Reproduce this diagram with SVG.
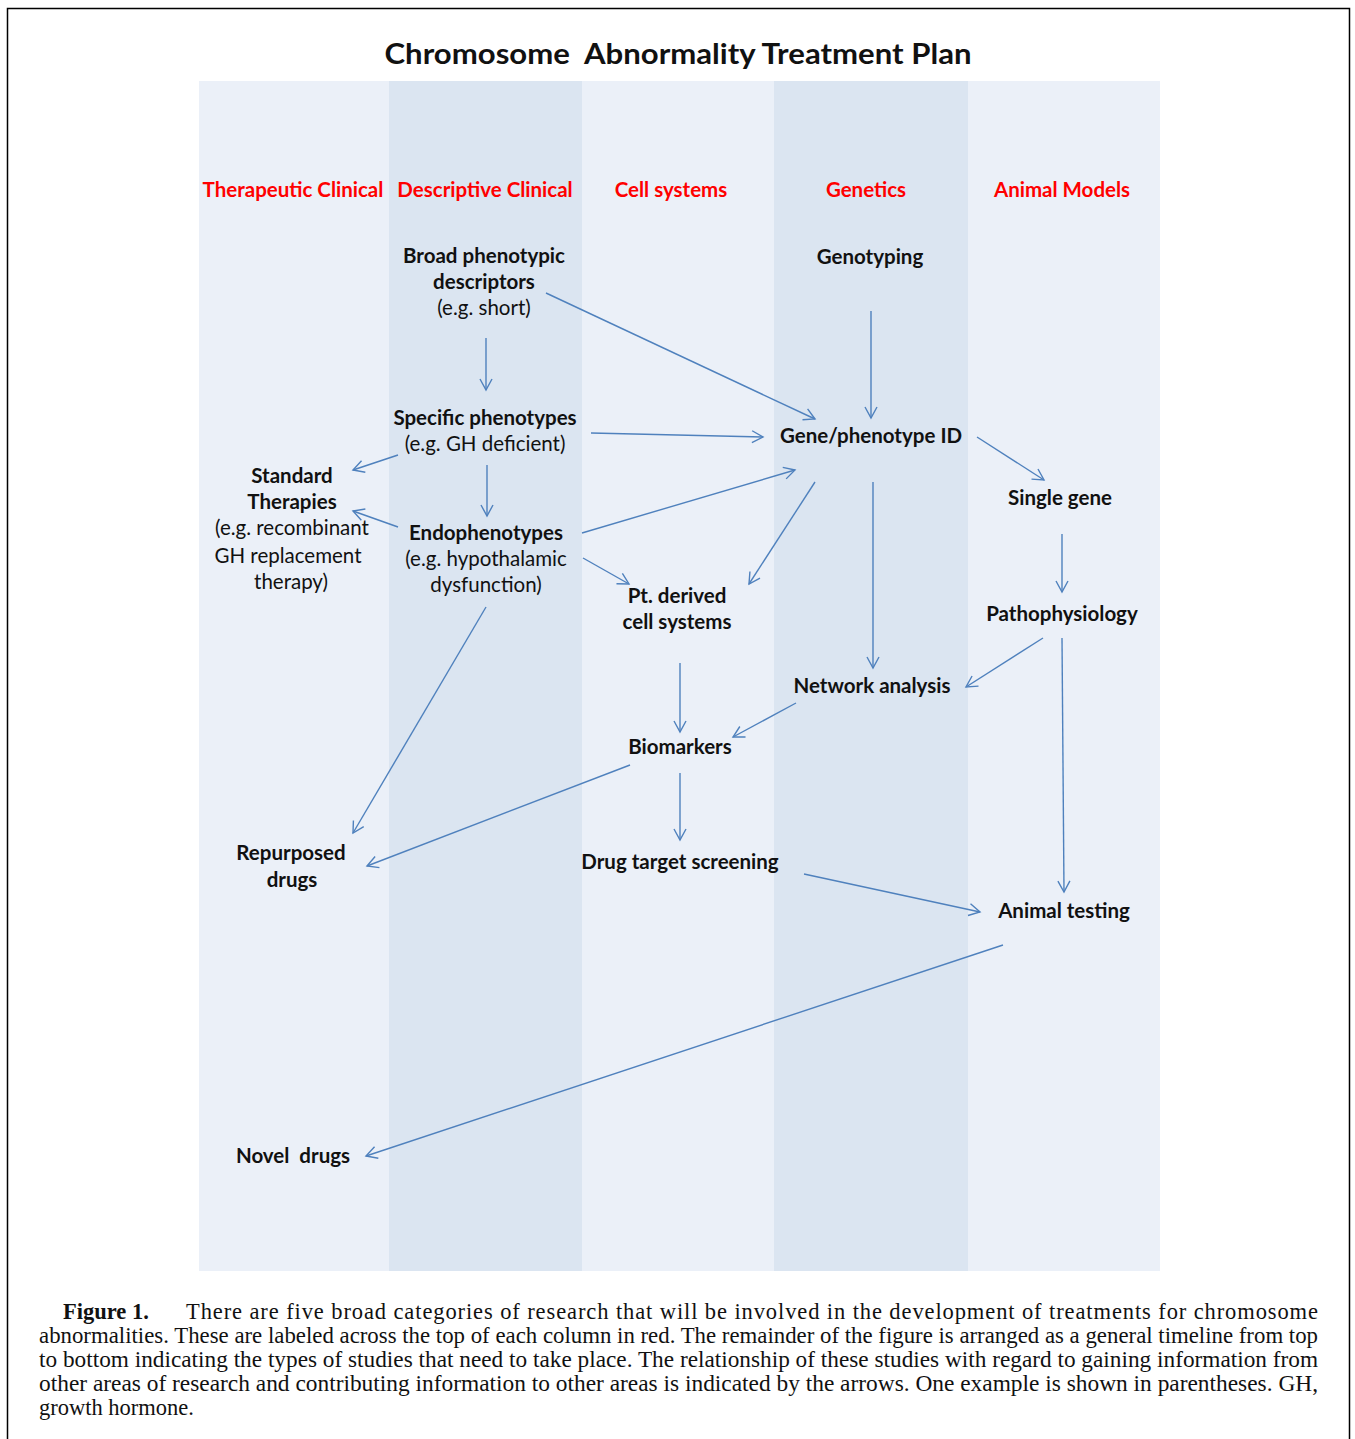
<svg xmlns="http://www.w3.org/2000/svg" width="1355" height="1439" viewBox="0 0 1355 1439">
<defs>
<style>
.t{font-family:Lato,"Open Sans","Liberation Sans",sans-serif;font-weight:bold;font-size:20.5px;fill:#111;text-anchor:middle;white-space:pre}
.n{font-weight:normal}
.h{font-family:Lato,"Open Sans","Liberation Sans",sans-serif;font-weight:bold;font-size:20.5px;fill:#ff0000;text-anchor:middle}
.c{font-family:"Liberation Serif",serif;font-size:22.5px;fill:#111}
.a{stroke:#4f81bd;stroke-width:1.4;fill:none;marker-end:url(#ah)}
</style>
<marker id="ah" markerWidth="14" markerHeight="14" refX="12" refY="7" orient="auto" markerUnits="userSpaceOnUse">
<path d="M1,1 L12,7 L1,13" fill="none" stroke="#4f81bd" stroke-width="1.4"/>
</marker>
</defs>
<rect width="1355" height="1439" fill="#fff"/>
<path d="M7.5,1439 V8.5 H1349.5 V1439" fill="none" stroke="#000" stroke-width="1.5"/>
<text x="678" y="64" style="font-family:Lato,'Open Sans','Liberation Sans',sans-serif;font-weight:bold;font-size:28px;fill:#111;text-anchor:middle;white-space:pre" textLength="587" lengthAdjust="spacingAndGlyphs">Chromosome  Abnormality Treatment Plan</text>
<g id="columns">
<rect x="199" y="81" width="190" height="1190" fill="#ebf0f8"/>
<rect x="389" y="81" width="193" height="1190" fill="#dbe5f1"/>
<rect x="582" y="81" width="192" height="1190" fill="#ebf0f8"/>
<rect x="774" y="81" width="194" height="1190" fill="#dbe5f1"/>
<rect x="968" y="81" width="192" height="1190" fill="#ebf0f8"/>
</g>
<g id="headers">
<text class="h" x="293" y="197">Therapeutic Clinical</text>
<text class="h" x="485" y="197">Descriptive Clinical</text>
<text class="h" x="671" y="197">Cell systems</text>
<text class="h" x="866" y="197">Genetics</text>
<text class="h" x="1062" y="197">Animal Models</text>
</g>
<g id="connectors">
<line class="a" x1="546" y1="293" x2="815" y2="419"/>
<line class="a" x1="486" y1="338" x2="486" y2="390"/>
<line class="a" x1="871" y1="311" x2="871" y2="418"/>
<line class="a" x1="591" y1="433" x2="763" y2="437"/>
<line class="a" x1="398" y1="455" x2="353" y2="470"/>
<line class="a" x1="487" y1="465" x2="487" y2="516"/>
<line class="a" x1="398" y1="527" x2="353" y2="511"/>
<line class="a" x1="582" y1="533" x2="795" y2="470"/>
<line class="a" x1="815" y1="482" x2="749" y2="584"/>
<line class="a" x1="583" y1="558" x2="629" y2="584"/>
<line class="a" x1="977" y1="437" x2="1044" y2="480"/>
<line class="a" x1="873" y1="482" x2="873" y2="668"/>
<line class="a" x1="1062" y1="534" x2="1062" y2="592"/>
<line class="a" x1="1043" y1="638" x2="966" y2="687"/>
<line class="a" x1="1062" y1="638" x2="1064" y2="892"/>
<line class="a" x1="680" y1="663" x2="680" y2="732"/>
<line class="a" x1="796" y1="703" x2="733" y2="737"/>
<line class="a" x1="680" y1="773" x2="680" y2="840"/>
<line class="a" x1="630" y1="765" x2="367" y2="866"/>
<line class="a" x1="486" y1="607" x2="353" y2="833"/>
<line class="a" x1="804" y1="874" x2="980" y2="912"/>
<line class="a" x1="1003" y1="945" x2="366" y2="1156"/>
</g>
<g id="broad"><text class="t" x="484" y="263">Broad phenotypic</text><text class="t" x="484" y="289">descriptors</text><text class="t n" x="484" y="315">(e.g. short)</text></g>
<g id="genotyping"><text class="t" x="870" y="264">Genotyping</text></g>
<g id="specific"><text class="t" x="485" y="425">Specific phenotypes</text><text class="t n" x="485" y="451">(e.g. GH deficient)</text></g>
<g id="geneid"><text class="t" x="871" y="443">Gene/phenotype ID</text></g>
<g id="standard"><text class="t" x="292" y="483">Standard</text><text class="t" x="292" y="509">Therapies</text><text class="t n" x="292" y="535">(e.g. recombinant</text><text class="t n" x="288" y="563">GH replacement</text><text class="t n" x="291" y="589">therapy)</text></g>
<g id="endo"><text class="t" x="486" y="540">Endophenotypes</text><text class="t n" x="486" y="566">(e.g. hypothalamic</text><text class="t n" x="486" y="592">dysfunction)</text></g>
<g id="single"><text class="t" x="1060" y="505">Single gene</text></g>
<g id="ptderived"><text class="t" x="677" y="603">Pt. derived</text><text class="t" x="677" y="629">cell systems</text></g>
<g id="patho"><text class="t" x="1062" y="621">Pathophysiology</text></g>
<g id="network"><text class="t" x="872" y="693">Network analysis</text></g>
<g id="biomarkers"><text class="t" x="680" y="754">Biomarkers</text></g>
<g id="repurposed"><text class="t" x="291" y="860">Repurposed</text><text class="t" x="292" y="887">drugs</text></g>
<g id="drugtarget"><text class="t" x="680" y="869">Drug target screening</text></g>
<g id="animal"><text class="t" x="1064" y="918">Animal testing</text></g>
<g id="novel"><text class="t" x="293" y="1163">Novel  drugs</text></g>
<g id="caption">
<text class="c" x="63" y="1319" style="font-weight:bold">Figure 1.</text>
<text class="c" x="186" y="1319" textLength="1132" lengthAdjust="spacing">There are five broad categories of research that will be involved in the development of treatments for chromosome</text>
<text class="c" x="39" y="1343" textLength="1279" lengthAdjust="spacingAndGlyphs">abnormalities. These are labeled across the top of each column in red. The remainder of the figure is arranged as a general timeline from top</text>
<text class="c" x="39" y="1367" textLength="1279" lengthAdjust="spacingAndGlyphs">to bottom indicating the types of studies that need to take place. The relationship of these studies with regard to gaining information from</text>
<text class="c" x="39" y="1391" textLength="1279" lengthAdjust="spacingAndGlyphs">other areas of research and contributing information to other areas is indicated by the arrows. One example is shown in parentheses. GH,</text>
<text class="c" x="39" y="1415">growth hormone.</text>
</g>
</svg>
